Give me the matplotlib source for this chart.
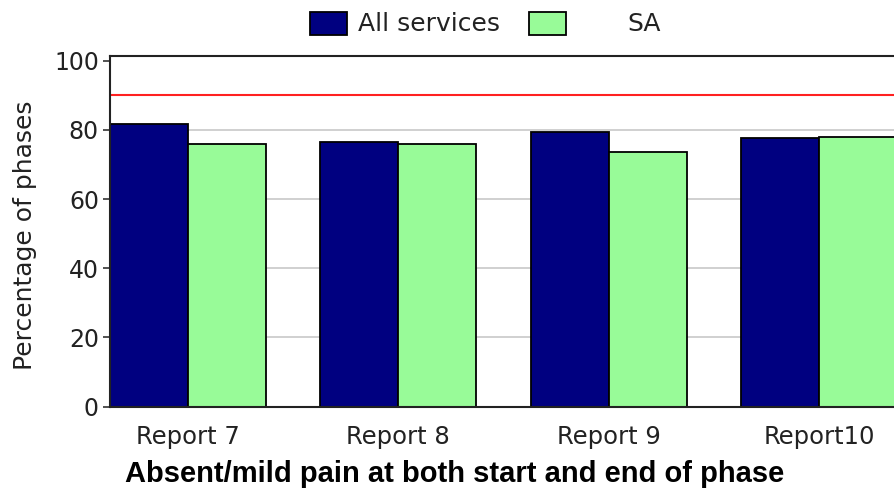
import matplotlib.pyplot as plt
import matplotlib.patches as patches
import numpy as np

# data
reports = ['Report 7', 'Report 8', 'Report 9', 'Report10']
all_services = [81.7, 76.5, 79.4, 77.6]
sa = [75.8, 75.9, 73.6, 78.0]
target = 90
y_ticks = [0, 20, 40, 60, 80, 100]
grid_vals = [20, 40, 60, 80]

plt.rcParams['font.family'] = ['DejaVu Sans']
txt = '#222222'

fig = plt.figure(figsize=(8.94, 4.88), dpi=100)
W, H = 894, 488
# axes in pixel terms: left 110, right ~897, top 55.7, bottom 406.7
ax = fig.add_axes([110 / W, (H - 406.7) / H, (897 - 110) / W, (406.7 - 55.7) / H])

x = np.arange(len(reports))
w = 0.37

for g in grid_vals:
    ax.axhline(g, color='#c8c8c8', lw=1.2, zorder=0)
ax.axhline(target, color='#ff2020', lw=1.5, zorder=1)

ax.bar(x - w / 2, all_services, w, color='#000080', edgecolor='black', lw=1.3, zorder=2)
ax.bar(x + w / 2, sa, w, color='#98fb98', edgecolor='black', lw=1.3, zorder=2)

ax.set_xlim(-0.37, 3.37)
ax.set_ylim(0, 101.4)
ax.set_xticks(x)
ax.set_xticklabels(reports, fontsize=17.5, color=txt)
ax.set_yticks(y_ticks)
ax.set_yticklabels([str(v) for v in y_ticks], fontsize=17, color=txt)
ax.tick_params(axis='x', length=0, pad=13.5)
ax.tick_params(axis='y', length=5, width=1.2, color='#333333', pad=3)

for s in ['left', 'bottom', 'top']:
    ax.spines[s].set_color('#222222')
    ax.spines[s].set_linewidth(1.5)
ax.spines['right'].set_visible(False)

fig.text(25 / W, (H - 235) / H, 'Percentage of phases', rotation=90, fontsize=18,
         ha='center', va='center', color=txt)
fig.text(455 / W, (H - 481.7) / H, 'Absent/mild pain at both start and end of phase',
         family='Liberation Sans', fontsize=21, fontweight='bold',
         ha='center', va='baseline', color='black')

# legend
fig.patches.append(patches.Rectangle((310 / W, (H - 35) / H), 37 / W, 23 / H,
                                     transform=fig.transFigure, facecolor='#000080',
                                     edgecolor='black', lw=1.3))
fig.text(358 / W, (H - 31) / H, 'All services', fontsize=18, va='baseline', color=txt)
fig.patches.append(patches.Rectangle((529 / W, (H - 35) / H), 37 / W, 23 / H,
                                     transform=fig.transFigure, facecolor='#98fb98',
                                     edgecolor='black', lw=1.3))
fig.text(627 / W, (H - 31) / H, 'SA', fontsize=18, va='baseline', color=txt)

fig.savefig('out.png', dpi=100)
